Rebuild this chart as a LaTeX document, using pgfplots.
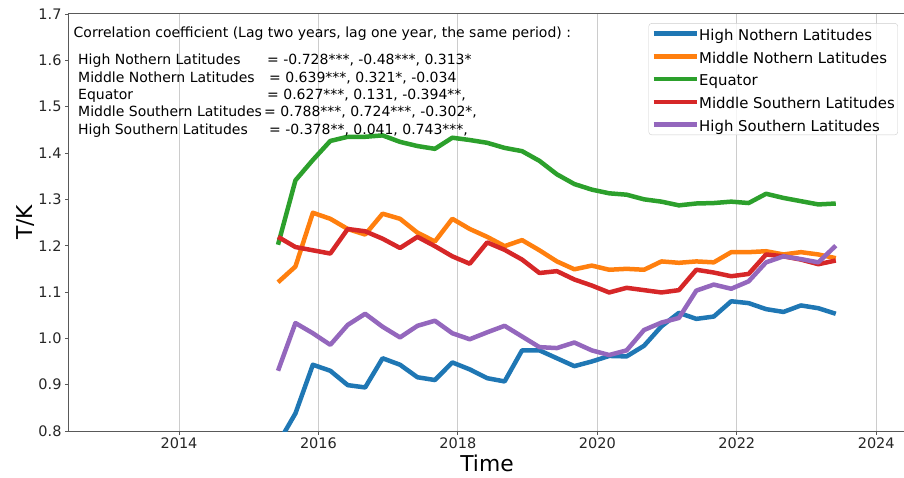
\documentclass[border=0pt]{standalone}
\usepackage{fontspec}
\setmainfont{DejaVu Sans}
\usepackage{pgfplots}
\usepackage{pgfplotstable}
\pgfplotsset{compat=1.18}
\definecolor{c0}{HTML}{1F77B4}
\definecolor{c1}{HTML}{FF7F0E}
\definecolor{c2}{HTML}{2CA02C}
\definecolor{c3}{HTML}{D62728}
\definecolor{c4}{HTML}{9467BD}

\pgfplotstableread{
x hn mn eq ms hs
2015.42 0.773 1.121 1.202 1.219 0.930
2015.67 0.838 1.155 1.341 1.197 1.033
2015.92 0.943 1.271 1.385 1.190 1.011
2016.17 0.930 1.258 1.426 1.183 0.986
2016.42 0.899 1.236 1.435 1.236 1.029
2016.67 0.894 1.224 1.435 1.231 1.053
2016.92 0.957 1.269 1.438 1.215 1.025
2017.17 0.943 1.258 1.424 1.195 1.002
2017.42 0.916 1.228 1.415 1.219 1.027
2017.67 0.910 1.209 1.409 1.199 1.038
2017.92 0.948 1.258 1.433 1.177 1.011
2018.17 0.933 1.236 1.428 1.161 0.998
2018.42 0.914 1.219 1.422 1.207 1.013
2018.67 0.907 1.199 1.411 1.191 1.027
2018.92 0.974 1.212 1.404 1.170 1.004
2019.17 0.974 1.190 1.383 1.141 0.981
2019.42 0.957 1.166 1.354 1.145 0.979
2019.67 0.940 1.149 1.333 1.127 0.991
2019.92 0.950 1.157 1.321 1.114 0.974
2020.17 0.962 1.148 1.313 1.099 0.964
2020.42 0.961 1.150 1.310 1.109 0.974
2020.67 0.984 1.148 1.300 1.104 1.018
2020.92 1.026 1.166 1.295 1.099 1.034
2021.17 1.055 1.163 1.287 1.104 1.044
2021.42 1.042 1.166 1.291 1.148 1.103
2021.67 1.047 1.164 1.292 1.142 1.116
2021.92 1.080 1.186 1.295 1.134 1.107
2022.17 1.076 1.186 1.292 1.139 1.123
2022.42 1.063 1.188 1.312 1.181 1.164
2022.67 1.057 1.181 1.303 1.177 1.177
2022.92 1.071 1.186 1.296 1.170 1.171
2023.17 1.065 1.181 1.289 1.160 1.164
2023.42 1.053 1.173 1.291 1.168 1.200
}\datatable

\begin{document}
\begin{tikzpicture}
\begin{axis}[
  name=ax, scale only axis, width=837pt, height=417pt,
  xmin=2012.415, xmax=2024.42, ymin=0.8, ymax=1.7,
  xtick={2014,2016,2018,2020,2022,2024},
  ytick={0.8,0.9,1.0,1.1,1.2,1.3,1.4,1.5,1.6,1.7},
  xticklabel style={/pgf/number format/.cd,fixed,precision=0,1000 sep={}},
  yticklabel style={/pgf/number format/.cd,fixed,fixed zerofill,precision=1},
  /pgf/number format/assume math mode=true,
  tick label style={font=\fontsize{14.5}{17}\selectfont, text=black!85},
  tick align=outside, tick pos=left, major tick length=3.5pt,
  every tick/.style={black!65, line width=0.8pt},
  axis line style={black!65, line width=1pt},
  xmajorgrids, grid style={black!20, line width=0.8pt},
  xlabel={Time}, ylabel={T/K},
  label style={font=\fontsize{21.8}{26}\selectfont},
  xlabel style={at={(axis description cs:0.5,0)}, anchor=base, yshift=-40pt},
  ylabel style={at={(axis description cs:-0.0436,0.5)}, anchor=base},
  legend style={at={(rel axis cs:0.991,0.978)}, anchor=north east,
    draw=black!20, rounded corners=3pt, fill=white, fill opacity=0.8, text opacity=1,
    font=\fontsize{14.9}{17}\selectfont, inner xsep=3pt, inner ysep=3pt,
    row sep=8.25pt, column sep=0pt,
    nodes={inner sep=0pt, text height=14pt, text depth=0.5pt},
    cells={anchor=west}},
  legend image code/.code={\draw[#1] (0pt,0pt) -- (28pt,0pt); \path (0pt,0pt) -- (43pt,0pt);},
  every axis plot/.append style={line width=4.5pt, line join=round},
]
\addplot[c0] table[x=x,y=hn]{\datatable};
\addplot[c1] table[x=x,y=mn]{\datatable};
\addplot[c2] table[x=x,y=eq]{\datatable};
\addplot[c3] table[x=x,y=ms]{\datatable};
\addplot[c4] table[x=x,y=hs]{\datatable};
\legend{High Nothern Latitudes, Middle Nothern Latitudes, Equator, Middle Southern Latitudes, High Southern Latitudes}
\node[anchor=north west, inner sep=0pt, align=left, font=\fontsize{14}{17.3}\selectfont]
  at ([xshift=5pt,yshift=-13pt]rel axis cs:0,1)
  {Correlation coefficient (Lag two years, lag one year, the same period) :\\[9.7pt]
   \hspace*{4.5pt}\makebox[189pt][l]{High Nothern Latitudes}= -0.728***, -0.48***, 0.313*\\
   \hspace*{4.5pt}\makebox[191pt][l]{Middle Nothern Latitudes}= 0.639***, 0.321*, -0.034\\
   \hspace*{4.5pt}\makebox[189pt][l]{Equator}= 0.627***, 0.131, -0.394**,\\
   \hspace*{4.5pt}\makebox[186pt][l]{Middle Southern Latitudes}= 0.788***, 0.724***, -0.302*,\\
   \hspace*{4.5pt}\makebox[191pt][l]{High Southern Latitudes}= -0.378**, 0.041, 0.743***,};
\end{axis}
\pgfresetboundingbox
\path[use as bounding box] ([xshift=-68.5pt,yshift=-46pt]ax.south west) rectangle ([xshift=-1.5pt,yshift=14pt]ax.north east);
\end{tikzpicture}
\end{document}
